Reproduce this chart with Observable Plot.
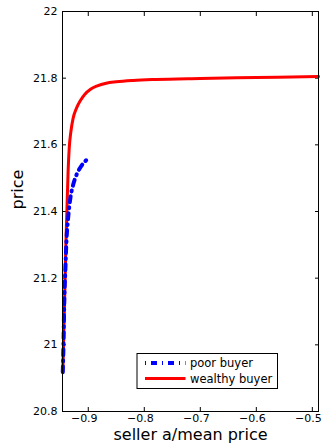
<!DOCTYPE html>
<html>
<head>
<meta charset="utf-8">
<script src="https://cdn.jsdelivr.net/npm/d3@7"></script>
<script src="https://cdn.jsdelivr.net/npm/@observablehq/plot@0.6"></script>
<style>
  html, body { margin: 0; padding: 0; background: #fff; }
  #chart svg { display: block; }
</style>
</head>
<body>
<div id="chart"></div>
<script>
// ---- data ----
const seriesNames = ["poor buyer", "wealthy buyer"];

const poorX = [-0.9455, -0.944, -0.943, -0.941, -0.939, -0.936, -0.932, -0.927, -0.921, -0.913, -0.903];
const poorY = [20.918, 21.02, 21.12, 21.22, 21.31, 21.38, 21.44, 21.48, 21.51, 21.535, 21.555];

const wealthyX = [-0.9455, -0.944, -0.942, -0.940, -0.938, -0.936, -0.934, -0.931, -0.927, -0.921, -0.914, -0.906, -0.896, -0.884, -0.868, -0.85, -0.82, -0.78, -0.70, -0.60, -0.489];
const wealthyY = [20.92, 21.01, 21.15, 21.30, 21.41, 21.52, 21.59, 21.64, 21.68, 21.71, 21.733, 21.752, 21.767, 21.777, 21.785, 21.789, 21.793, 21.796, 21.799, 21.802, 21.805];

const xTicks = [-0.9, -0.8, -0.7, -0.6, -0.5];
const yTicks = [20.8, 21, 21.2, 21.4, 21.6, 21.8, 22];
const xDomain = [-0.946, -0.489];
const yDomain = [20.8, 22];
const xLabel = "seller a/mean price";
const yLabel = "price";

// ---- build tables ----
const poor = poorX.map((x, i) => ({x, y: poorY[i]}));
const wealthy = wealthyX.map((x, i) => ({x, y: wealthyY[i]}));

const fmtX = d => String(+d.toFixed(1)).replace("-", "\u2212");
const fmtY = d => String(+d.toFixed(1));

const svg = Plot.plot({
  width: 323,
  height: 446,
  marginLeft: 62,
  marginRight: 5,
  marginTop: 11,
  marginBottom: 35,
  style: {fontFamily: "'DejaVu Sans', sans-serif", fontSize: "11px", background: "#fff", color: "#000"},
  x: {domain: xDomain, label: null},
  y: {domain: yDomain, label: null},
  marks: [
    // tick marks only (inward, on all four sides)
    Plot.axisX(xTicks, {anchor: "bottom", tickSize: -4, fill: "none", stroke: "#000"}),
    Plot.axisX(xTicks, {anchor: "top", tickSize: -4, fill: "none", stroke: "#000"}),
    Plot.axisY(yTicks, {anchor: "left", tickSize: -4, fill: "none", stroke: "#000"}),
    Plot.axisY(yTicks, {anchor: "right", tickSize: -4, fill: "none", stroke: "#000"}),
    // tick labels only
    Plot.axisX(xTicks, {anchor: "bottom", tickSize: 0, tickPadding: 3, dx: -4, tickFormat: fmtX, fill: "#000", fontSize: 11}),
    Plot.axisY(yTicks, {anchor: "left", tickSize: 0, tickPadding: 5, tickFormat: fmtY, fill: "#000", fontSize: 11}),
    // data
    Plot.line(wealthy, {x: "x", y: "y", stroke: "#ff0000", strokeWidth: 3, curve: "monotone-x"}),
    Plot.line(poor, {x: "x", y: "y", stroke: "#0000ff", strokeWidth: 4, strokeDasharray: "6,5,1,5", curve: "monotone-x"}),
    Plot.frame({stroke: "#000", strokeWidth: 1}),
    // axis titles
    Plot.text([xLabel], {text: d => d, frameAnchor: "bottom", dy: 28, fontSize: 16, fill: "#000"}),
    Plot.text([yLabel], {text: d => d, frameAnchor: "left", dx: -45, dy: -2, rotate: -90, fontSize: 16, fill: "#000"})
  ]
});

// ---- legend inside the plot (bottom right) ----
const g = d3.select(svg).append("g").attr("class", "legend").attr("text-anchor", "start");
g.append("rect").attr("x", 137).attr("y", 353.5).attr("width", 140.5).attr("height", 35)
  .attr("fill", "#fff").attr("stroke", "#000").attr("stroke-width", 1);
const legendItems = [
  {name: seriesNames[0], stroke: "#0000ff", width: 4, dash: "1,5,6,5", y: 363},
  {name: seriesNames[1], stroke: "#ff0000", width: 3, dash: null, y: 378.5}
];
legendItems.forEach(it => {
  g.append("line").attr("x1", 145).attr("x2", 185.5).attr("y1", it.y).attr("y2", it.y)
    .attr("stroke", it.stroke).attr("stroke-width", it.width)
    .attr("stroke-dasharray", it.dash);
  g.append("text").attr("x", 190).attr("y", it.y).attr("dy", "0.35em")
    .attr("text-anchor", "start")
    .attr("font-size", 11.5).attr("fill", "#000").text(it.name);
});

document.getElementById("chart").appendChild(svg);
</script>
</body>
</html>
